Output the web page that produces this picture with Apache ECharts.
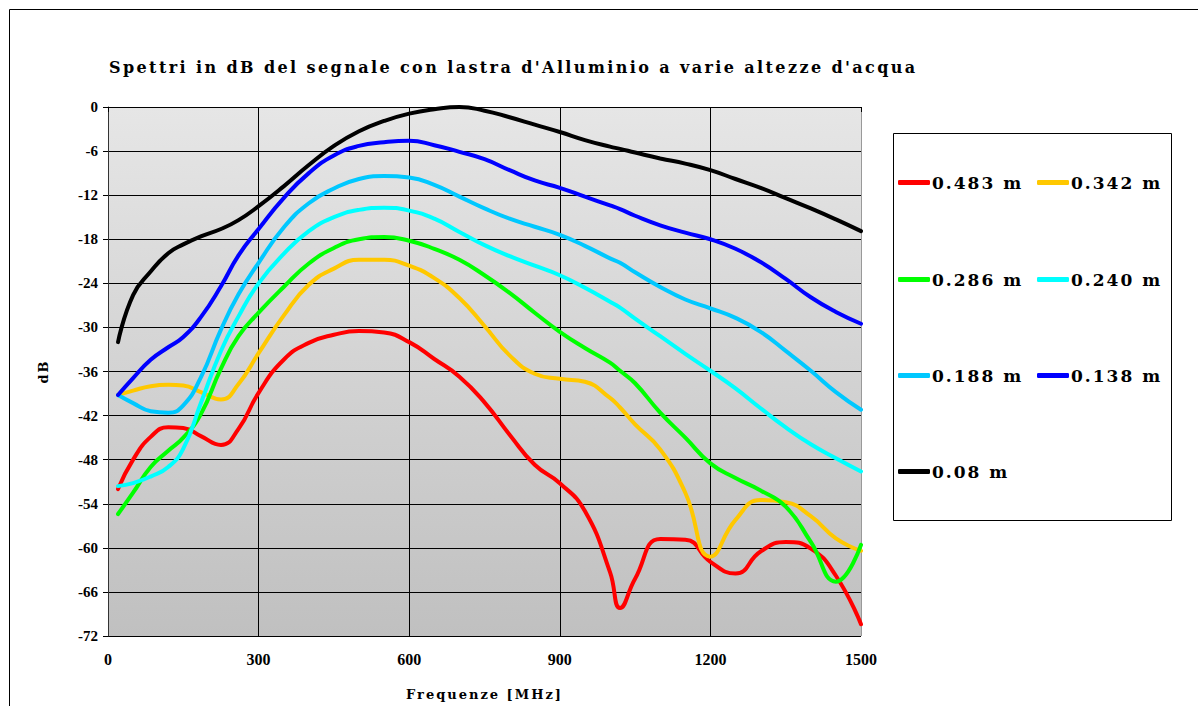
<!DOCTYPE html>
<html>
<head>
<meta charset="utf-8">
<script src="https://cdn.jsdelivr.net/npm/echarts@6/dist/echarts.min.js"></script>
<style>
  html, body { margin: 0; padding: 0; background: #fff; }
  #chart { width: 1198px; height: 706px; }
  /* testo spaziato come nell'originale (solo titolo, legenda e nomi assi) */
  #chart text[style*="DejaVu"] { letter-spacing: 2px; }
  #chart text[style*="DejaVu"][style*="16px"] { letter-spacing: 2.4px; }
</style>
</head>
<body>
<div id="chart"></div>
<script>
// frequenze [MHz]
const freq = [20, 50, 85, 120, 150, 185, 225, 260, 300, 350, 400, 450, 500, 550, 600, 650, 700, 750, 800, 850, 900, 950, 1000, 1020, 1050, 1100, 1150, 1200, 1250, 1300, 1350, 1400, 1450, 1500];

// spettri in dB per ogni altezza d'acqua
const h0483 = [-52.0, -48.0, -44.9, -43.6, -43.7, -44.8, -46.0, -43.8, -38.9, -34.4, -32.1, -31.0, -30.5, -30.7, -32.0, -34.3, -36.7, -40.2, -44.6, -48.7, -51.2, -55.0, -63.3, -68.2, -64.2, -58.8, -58.9, -61.9, -63.5, -60.5, -59.2, -60.1, -63.8, -70.4];
const h0342 = [-39.2, -38.6, -38.0, -37.8, -37.9, -38.8, -39.8, -37.7, -33.5, -28.4, -24.2, -22.0, -20.8, -20.8, -21.6, -23.3, -26.0, -29.8, -33.8, -36.3, -37.0, -37.4, -39.6, -40.9, -43.2, -46.6, -52.5, -61.2, -56.2, -53.5, -53.8, -55.7, -58.7, -60.4];
const h0286 = [-55.4, -52.5, -49.0, -46.8, -45.0, -41.8, -35.6, -31.2, -28.0, -24.5, -21.3, -19.2, -18.0, -17.7, -18.2, -19.3, -20.8, -22.9, -25.3, -28.0, -30.6, -32.8, -34.8, -35.9, -37.6, -41.6, -45.0, -48.5, -50.5, -52.2, -54.4, -59.2, -64.6, -59.6];
const h0240 = [-51.6, -51.2, -50.3, -49.0, -46.5, -40.3, -33.2, -28.5, -24.0, -20.0, -16.9, -15.0, -14.0, -13.7, -14.1, -15.2, -17.0, -18.8, -20.3, -21.6, -22.9, -24.6, -26.5, -27.3, -28.8, -31.2, -33.6, -35.9, -38.3, -41.0, -43.6, -45.9, -47.8, -49.6];
const h0188 = [-39.2, -40.3, -41.4, -41.6, -40.6, -36.8, -30.3, -25.5, -21.2, -16.4, -13.1, -11.1, -9.8, -9.4, -9.6, -10.6, -12.2, -13.8, -15.2, -16.3, -17.4, -18.9, -20.6, -21.2, -22.5, -24.5, -26.2, -27.4, -28.7, -30.6, -33.2, -35.9, -38.8, -41.2];
const h0138 = [-39.2, -36.9, -34.4, -32.7, -31.3, -28.6, -24.4, -20.2, -16.6, -12.4, -9.0, -6.6, -5.3, -4.8, -4.6, -5.2, -6.1, -7.1, -8.6, -10.0, -11.0, -12.2, -13.4, -13.9, -14.8, -16.1, -17.1, -18.0, -19.3, -21.1, -23.4, -25.9, -27.9, -29.5];
const h008 = [-32.0, -25.6, -22.4, -19.9, -18.7, -17.6, -16.6, -15.4, -13.5, -10.8, -7.9, -5.3, -3.3, -1.9, -0.9, -0.3, 0.0, -0.5, -1.4, -2.4, -3.4, -4.5, -5.4, -5.7, -6.2, -7.0, -7.7, -8.6, -9.8, -11.0, -12.4, -13.8, -15.3, -16.9];

const names = ["0.483 m", "0.342 m", "0.286 m", "0.240 m", "0.188 m", "0.138 m", "0.08 m"];
const values = [h0483, h0342, h0286, h0240, h0188, h0138, h008];
const colors = ["#ff0000", "#ffc800", "#00ff00", "#00ffff", "#00c8ff", "#0000ff", "#000000"];

const serif = "DejaVu Serif";

const chart = echarts.init(document.getElementById("chart"), null, { renderer: "svg" });

// una legenda per voce, per metterle a due colonne dentro il riquadro
const legendPos = [
  [898, 174], [1037, 174],
  [898, 271], [1037, 271],
  [898, 367], [1037, 367],
  [898, 463],
];
const legends = names.map((n, i) => ({
  data: [n],
  left: legendPos[i][0],
  top: legendPos[i][1],
  icon: "roundRect",
  itemWidth: 32,
  itemHeight: 5,
  itemGap: 0,
  padding: 0,
  textStyle: {
    fontFamily: serif,
    fontWeight: "bold",
    fontSize: 17,
    color: "#000",
    padding: [0, 0, 0, -3],
  },
}));

const vLineColors = ["#000", "#000", "#000", "#000", "#000", "#999"];
const hLineColors = ["#000", "#000", "#000", "#000", "#000", "#000", "#000", "#000", "#000", "#000", "#000", "#000", "#999"];

chart.setOption({
  animation: false,
  backgroundColor: "#fff",
  title: {
    text: "Spettri in dB del segnale con lastra d'Alluminio a varie altezze d'acqua",
    left: 104,
    top: 54,
    textStyle: {
      fontFamily: serif,
      fontWeight: "bold",
      fontSize: 16,
      color: "#000",
    },
  },
  graphic: [
    {
      type: "rect",
      shape: { x: 9.5, y: 9.5, width: 1200, height: 720 },
      style: { fill: null, stroke: "#000", lineWidth: 1 },
      silent: true,
    },
    {
      type: "rect",
      shape: { x: 893.5, y: 133.5, width: 278, height: 387 },
      style: { fill: "#fff", stroke: "#000", lineWidth: 1 },
      silent: true,
    },
  ],
  legend: legends,
  grid: {
    left: 108,
    right: 337,
    top: 107,
    bottom: 70,
    show: true,
    borderWidth: 0,
    backgroundColor: new echarts.graphic.LinearGradient(0, 0, 0, 1, [
      { offset: 0, color: "#e6e6e6" },
      { offset: 1, color: "#c0c0c0" },
    ]),
  },
  xAxis: {
    type: "value",
    min: 0,
    max: 1500,
    interval: 300,
    name: "Frequenze [MHz]",
    nameLocation: "middle",
    nameGap: 52,
    nameTextStyle: { fontFamily: serif, fontWeight: "bold", fontSize: 13, color: "#000" },
    axisLine: { lineStyle: { color: "#000", width: 1 } },
    axisTick: { inside: false, length: 5, lineStyle: { color: "#000" } },
    axisLabel: {
      margin: 15,
      fontFamily: "Liberation Serif",
      fontWeight: "bold",
      fontSize: 16,
      color: "#000",
      formatter: (v) => String(v),
    },
    splitLine: { show: true, lineStyle: { color: vLineColors, width: 1 } },
  },
  yAxis: {
    type: "value",
    min: -72,
    max: 0,
    interval: 6,
    name: "dB",
    nameLocation: "middle",
    nameRotate: 90,
    nameGap: 58,
    nameTextStyle: { fontFamily: serif, fontWeight: "bold", fontSize: 13, color: "#000" },
    axisLine: { show: true, lineStyle: { color: "#333", width: 1 } },
    axisTick: { show: true, inside: false, length: 5, lineStyle: { color: "#000" } },
    axisLabel: {
      margin: 10,
      fontFamily: "Liberation Serif",
      fontWeight: "bold",
      fontSize: 15,
      color: "#000",
      formatter: (v) => String(v),
    },
    splitLine: { show: true, lineStyle: { color: hLineColors, width: 1 } },
  },
  series: names.map((n, i) => ({
    name: n,
    type: "line",
    smooth: 0.5,
    showSymbol: false,
    symbol: "none",
    color: colors[i],
    lineStyle: { width: 4, color: colors[i], cap: "round" },
    data: freq.map((f, k) => [f, values[i][k]]),
  })),
});
</script>
</body>
</html>
